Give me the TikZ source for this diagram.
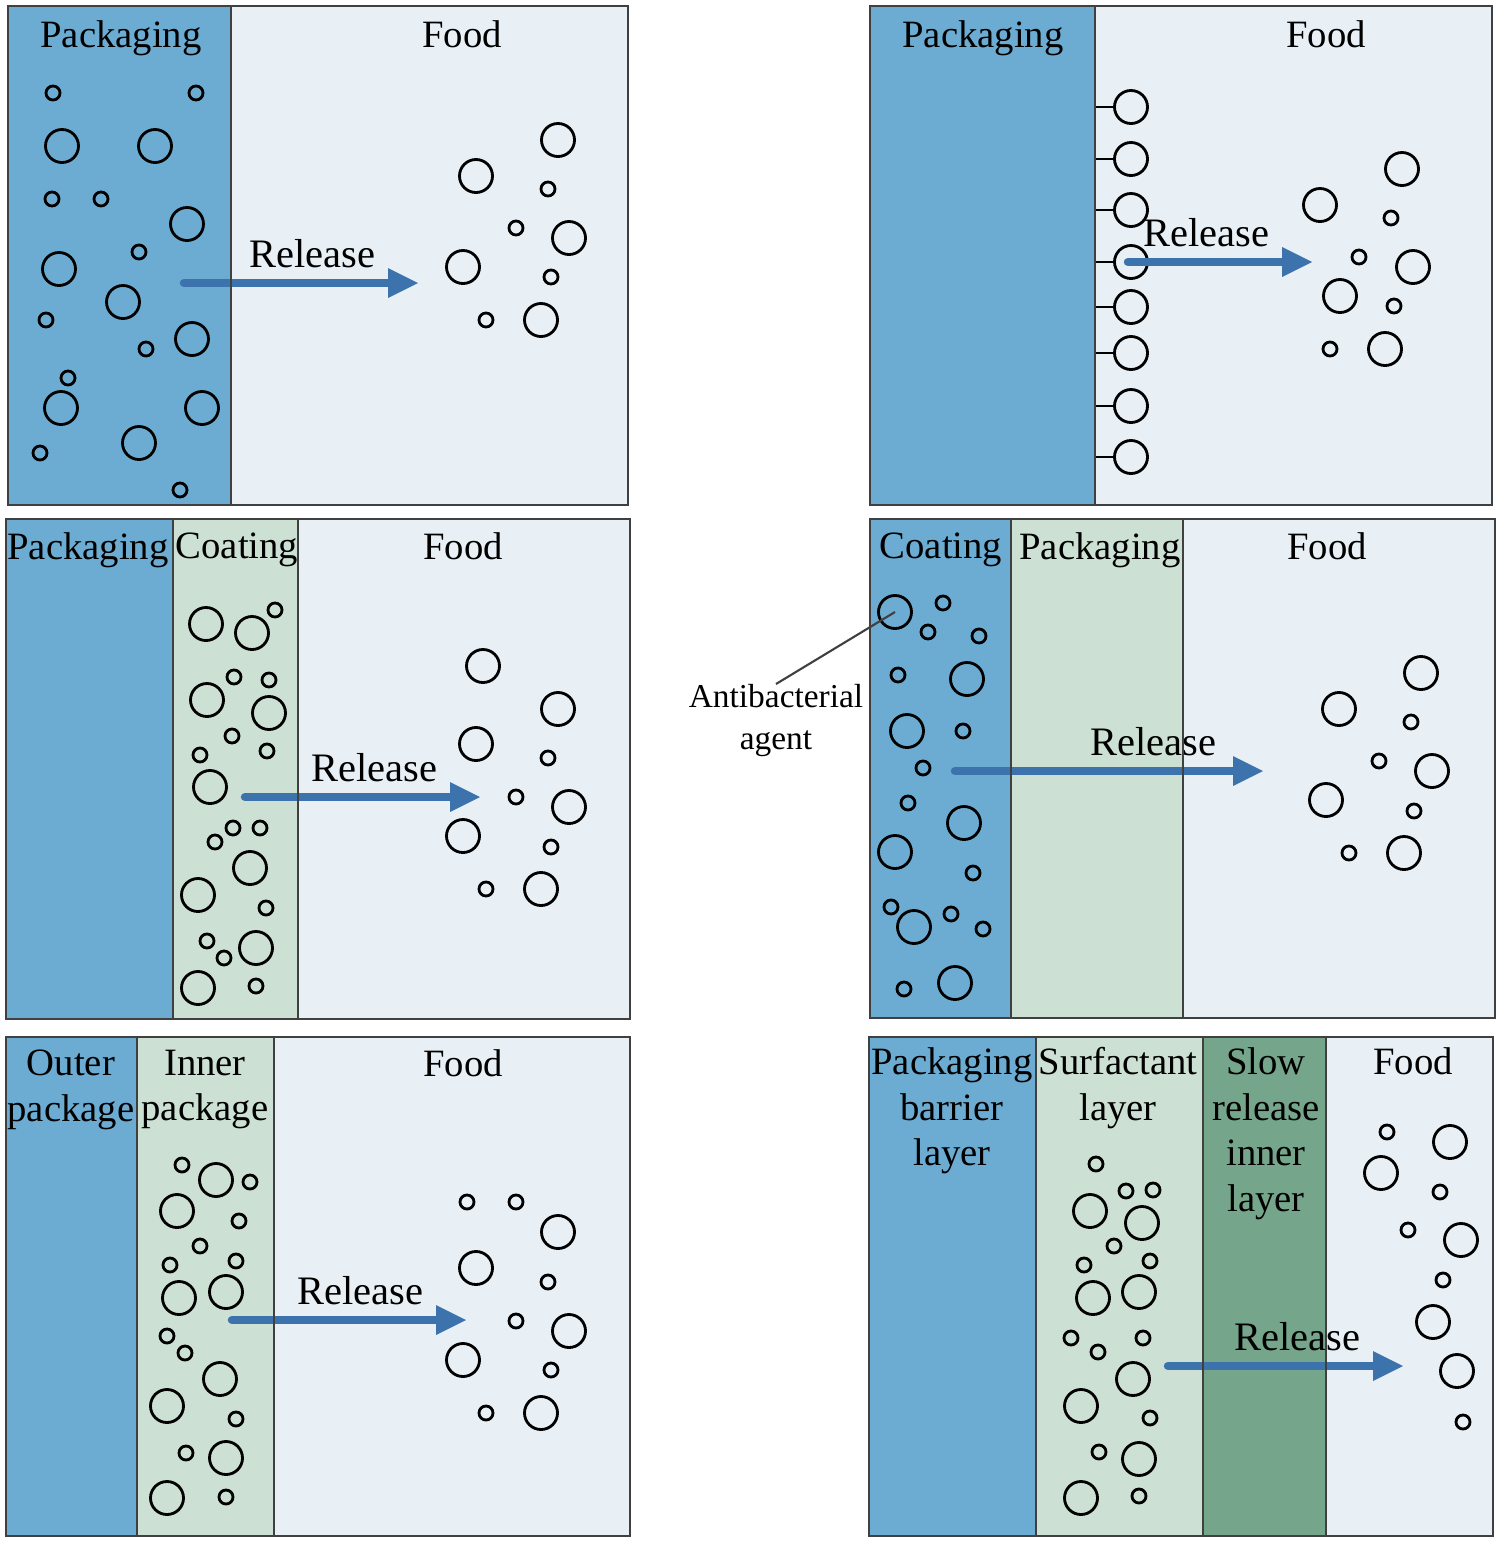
\documentclass[tikz,border=0pt]{standalone}
\usepackage{fontspec}
\setmainfont{Liberation Serif}
\usetikzlibrary{arrows.meta,positioning}
\definecolor{packblue}{RGB}{108,172,210}
\definecolor{foodbg}{RGB}{232,240,245}
\definecolor{coatgreen}{RGB}{204,224,211}
\definecolor{slowgreen}{RGB}{117,166,139}
\definecolor{arrowblue}{RGB}{61,115,172}
\definecolor{edgegray}{RGB}{64,64,64}
\tikzset{
  bub/.style={circle,draw=black,line width=0.8pt,inner sep=0pt,minimum size=0.33cm},
  bubs/.style={circle,draw=black,line width=0.8pt,inner sep=0pt,minimum size=0.14cm},
  lyr/.style={inner sep=0pt,anchor=north,align=center,font=\fontsize{11}{13}\selectfont},
  rel/.style={inner sep=0pt,anchor=base east,font=\fontsize{11.5}{13}\selectfont},
  relarrow/.style={draw=arrowblue,line width=2.4pt,line cap=round,
    -{Triangle[length=8.5pt,width=8.5pt,line width=0pt]}},
  boxline/.style={draw=edgegray,line width=0.6pt},
}
\begin{document}
\begin{tikzpicture}[x=0.01cm,y=-0.01cm]
  \useasboundingbox (0,0) rectangle (1500,1542);

  % top left: packaging -> food
  \fill[packblue] (8,6) rectangle (231,505);
  \fill[foodbg] (231,6) rectangle (628,505);
  \node[lyr] (p1pack) at (121,20) {Packaging};
  \node[lyr] (p1food) at (462,20) {Food};
  \foreach \x/\y [count=\i] in {62/146,155/146,187/224,59/269,123/302,192/339,61/408,202/408,139/443}
    \node[bub] (p1b\i) at (\x,\y) {};
  \foreach \x/\y [count=\i] in {53/93,196/93,52/199,101/199,139/252,46/320,146/349,68/378,40/453,180/490}
    \node[bubs] (p1s\i) at (\x,\y) {};
  \foreach \x/\y [count=\i] in {476/176,558/140,569/238,463/267,541/320}
    \node[bub] (p1fb\i) at (\x,\y) {};
  \foreach \x/\y [count=\i] in {548/189,516/228,551/277,486/320}
    \node[bubs] (p1fs\i) at (\x,\y) {};
  \coordinate (p1a) at (184,283);
  \coordinate (p1z) at (418,283);
  \draw[relarrow] (p1a) -- (p1z);
  \node[rel] (p1rel) at ([shift={(-42,-16)}]p1z) {Release};
  \draw[boxline] (8,6) rectangle (628,505) (231,6) -- (231,505);

  % top right: grafted agent
  \fill[packblue] (870,6) rectangle (1095,505);
  \fill[foodbg] (1095,6) rectangle (1492,505);
  \node[lyr] (p2pack) at (983,20) {Packaging};
  \node[lyr] (p2food) at (1326,20) {Food};
  \foreach \y [count=\i] in {107,159,210,262,307,353,406,457} {
    \coordinate (p2w\i) at (1095,\y);
    \node[bub] (p2g\i) at (1131,\y) {};
    \draw[line width=0.8pt] (p2w\i) -- (p2g\i);
  }
  \foreach \x/\y [count=\i] in {1402/169,1320/205,1413/267,1340/296,1385/349}
    \node[bub] (p2fb\i) at (\x,\y) {};
  \foreach \x/\y [count=\i] in {1391/218,1359/257,1394/306,1330/349}
    \node[bubs] (p2fs\i) at (\x,\y) {};
  \coordinate (p2a) at (1128,262);
  \coordinate (p2z) at (1312,262);
  \draw[relarrow] (p2a) -- (p2z);
  \node[rel] (p2rel) at ([shift={(-42,-16)}]p2z) {Release};
  \draw[boxline] (870,6) rectangle (1492,505) (1095,6) -- (1095,505);

  % middle left: coating on the food side
  \fill[packblue] (6,519) rectangle (173,1019);
  \fill[coatgreen] (173,519) rectangle (298,1019);
  \fill[foodbg] (298,519) rectangle (630,1019);
  \node[lyr] (p3pack) at (88,532) {Packaging};
  \node[lyr] (p3coat) at (237,532) {Coating};
  \node[lyr] (p3food) at (463,532) {Food};
  \foreach \x/\y [count=\i] in {206/624,252/633,207/700,269/713,210/787,250/868,198/895,256/948,198/988}
    \node[bub] (p3b\i) at (\x,\y) {};
  \foreach \x/\y [count=\i] in {275/610,234/677,269/680,232/736,200/755,267/751,233/828,260/828,215/842,266/908,207/941,224/958,256/986}
    \node[bubs] (p3s\i) at (\x,\y) {};
  \foreach \x/\y [count=\i] in {483/666,558/709,476/744,569/807,463/836,541/889}
    \node[bub] (p3fb\i) at (\x,\y) {};
  \foreach \x/\y [count=\i] in {548/758,516/797,551/847,486/889}
    \node[bubs] (p3fs\i) at (\x,\y) {};
  \coordinate (p3a) at (245,797);
  \coordinate (p3z) at (480,797);
  \draw[relarrow] (p3a) -- (p3z);
  \node[rel] (p3rel) at ([shift={(-42,-16)}]p3z) {Release};
  \draw[boxline] (6,519) rectangle (630,1019) (173,519) -- (173,1019) (298,519) -- (298,1019);

  % middle right: coating on the outside
  \fill[packblue] (870,519) rectangle (1011,1018);
  \fill[coatgreen] (1011,519) rectangle (1183,1018);
  \fill[foodbg] (1183,519) rectangle (1495,1018);
  \node[lyr] (p4coat) at (941,532) {Coating};
  \node[lyr] (p4pack) at (1100,532) {Packaging};
  \node[lyr] (p4food) at (1327,532) {Food};
  \foreach \x/\y [count=\i] in {895/612,967/679,907/731,964/823,895/852,914/927,955/983}
    \node[bub] (p4b\i) at (\x,\y) {};
  \foreach \x/\y [count=\i] in {943/603,928/632,979/636,898/675,963/731,923/768,908/803,973/873,891/907,951/914,983/929,904/989}
    \node[bubs] (p4s\i) at (\x,\y) {};
  \foreach \x/\y [count=\i] in {1421/673,1339/709,1432/771,1326/800,1404/853}
    \node[bub] (p4fb\i) at (\x,\y) {};
  \foreach \x/\y [count=\i] in {1411/722,1379/761,1414/811,1349/853}
    \node[bubs] (p4fs\i) at (\x,\y) {};
  \node[inner sep=0pt,anchor=north,align=center,font=\fontsize{9.5}{11.8}\selectfont]
    (p4tag) at (776,684) {Antibacterial\\agent};
  \draw[edgegray,line width=0.6pt] (p4tag.north) -- (p4b1.center);
  \coordinate (p4a) at (955,771);
  \coordinate (p4z) at (1263,771);
  \draw[relarrow] (p4a) -- (p4z);
  \node[rel] (p4rel) at ([shift={(-46,-16)}]p4z) {Release};
  \draw[boxline] (870,519) rectangle (1495,1018) (1011,519) -- (1011,1018) (1183,519) -- (1183,1018);

  % bottom left: outer and inner package
  \fill[packblue] (6,1037) rectangle (137,1536);
  \fill[coatgreen] (137,1037) rectangle (274,1536);
  \fill[foodbg] (274,1037) rectangle (630,1536);
  \node[lyr] (p5out) at (71,1049) {Outer\\package};
  \node[lyr] (p5in) at (205,1049) {Inner\\package};
  \node[lyr] (p5food) at (463,1049) {Food};
  \foreach \x/\y [count=\i] in {216/1180,177/1211,179/1298,226/1292,220/1379,167/1406,226/1458,167/1498}
    \node[bub] (p5b\i) at (\x,\y) {};
  \foreach \x/\y [count=\i] in {182/1165,250/1182,239/1221,200/1246,170/1265,236/1261,167/1336,185/1353,236/1419,186/1453,226/1497}
    \node[bubs] (p5s\i) at (\x,\y) {};
  \foreach \x/\y [count=\i] in {558/1232,476/1268,569/1331,463/1360,541/1413}
    \node[bub] (p5fb\i) at (\x,\y) {};
  \foreach \x/\y [count=\i] in {467/1202,516/1202,548/1282,516/1321,551/1370,486/1413}
    \node[bubs] (p5fs\i) at (\x,\y) {};
  \coordinate (p5a) at (232,1320);
  \coordinate (p5z) at (466,1320);
  \draw[relarrow] (p5a) -- (p5z);
  \node[rel] (p5rel) at ([shift={(-42,-16)}]p5z) {Release};
  \draw[boxline] (6,1037) rectangle (630,1536) (137,1037) -- (137,1536) (274,1037) -- (274,1536);

  % bottom right: four layers
  \fill[packblue] (869,1037) rectangle (1036,1536);
  \fill[coatgreen] (1036,1037) rectangle (1203,1536);
  \fill[slowgreen] (1203,1037) rectangle (1326,1536);
  \fill[foodbg] (1326,1037) rectangle (1493,1536);
  \node[lyr] (p6pack) at (952,1047) {Packaging\\barrier\\layer};
  \node[lyr] (p6surf) at (1118,1047) {Surfactant\\layer};
  \node[lyr] (p6slow) at (1266,1047) {Slow\\release\\inner\\layer};
  \node[lyr] (p6food) at (1413,1047) {Food};
  \foreach \x/\y [count=\i] in {1090/1211,1142/1223,1093/1298,1139/1292,1133/1379,1081/1406,1139/1459,1081/1498}
    \node[bub] (p6b\i) at (\x,\y) {};
  \foreach \x/\y [count=\i] in {1096/1164,1126/1191,1153/1190,1114/1246,1084/1265,1150/1261,1071/1338,1098/1352,1143/1338,1150/1418,1099/1452,1139/1496}
    \node[bubs] (p6s\i) at (\x,\y) {};
  \foreach \x/\y [count=\i] in {1450/1142,1381/1173,1461/1240,1433/1322,1457/1371}
    \node[bub] (p6fb\i) at (\x,\y) {};
  \foreach \x/\y [count=\i] in {1387/1132,1440/1192,1408/1230,1443/1280,1463/1422}
    \node[bubs] (p6fs\i) at (\x,\y) {};
  \coordinate (p6a) at (1168,1366);
  \coordinate (p6z) at (1403,1366);
  \draw[relarrow] (p6a) -- (p6z);
  \node[rel] (p6rel) at ([shift={(-42,-16)}]p6z) {Release};
  \draw[boxline] (869,1037) rectangle (1493,1536) (1036,1037) -- (1036,1536)
    (1203,1037) -- (1203,1536) (1326,1037) -- (1326,1536);
\end{tikzpicture}
\end{document}
